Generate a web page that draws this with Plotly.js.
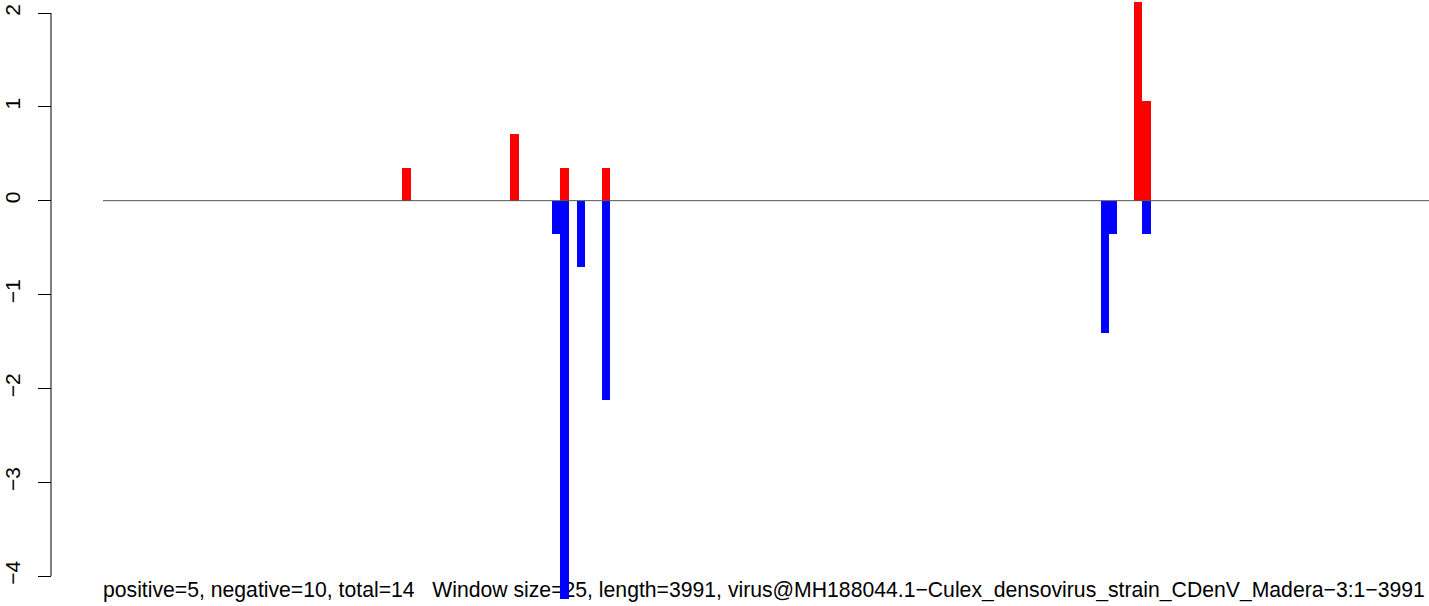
<!DOCTYPE html>
<html>
<head>
<meta charset="utf-8">
<script src="https://cdn.plot.ly/plotly-3.0.1.min.js"></script>
<style>html,body{margin:0;padding:0;background:#fff;}#chart{width:1429px;height:606px;}</style>
</head>
<body>
<div id="chart"></div>
<script>
// Window indices (window size 25) and scores
const posWindows = [36, 49, 55, 60, 124, 125];
const posValues  = [0.35, 0.71, 0.35, 0.35, 2.12, 1.06];
const negWindows = [54, 55, 57, 60, 120, 121, 125];
const negValues  = [-0.35, -4.24, -0.71, -2.12, -1.41, -0.35, -0.35];
const yTicks = [-4, -3, -2, -1, 0, 1, 2];
const caption = "positive=5, negative=10, total=14   Window size=25, length=3991, virus@MH188044.1\u2212Culex_densovirus_strain_CDenV_Madera\u22123:1\u22123991";

const W = 1429, H = 606, L = 51;
const plotW = W - L;
const xDomStart = (103 - L) / plotW;
const xRange = [-0.5, 159.0];
const yRange = [-4.3197, 2.1385];
const font = "Liberation Sans, Arial, Helvetica, sans-serif";

const traces = [
  {
    type: 'scatter', mode: 'text', x: [xRange[0]], y: [-4.17],
    text: [caption], textposition: 'middle right',
    textfont: {family: font, size: 21.2, color: '#000'},
    cliponaxis: false, hoverinfo: 'skip', showlegend: false,
    xaxis: 'x', yaxis: 'y'
  },
  {
    type: 'bar', x: posWindows, y: posValues, width: 1,
    marker: {color: '#ff0000', line: {width: 0}},
    hoverinfo: 'skip', showlegend: false, xaxis: 'x2', yaxis: 'y2'
  },
  {
    type: 'bar', x: negWindows, y: negValues, width: 1,
    marker: {color: '#0000ff', line: {width: 0}},
    hoverinfo: 'skip', showlegend: false, xaxis: 'x2', yaxis: 'y2'
  }
];

const layout = {
  width: W, height: H,
  margin: {l: L, r: 0, t: 0, b: 0, pad: 0},
  paper_bgcolor: '#fff', plot_bgcolor: '#fff',
  barmode: 'overlay', bargap: 0, showlegend: false,
  font: {family: font, size: 21, color: '#000'},
  xaxis: {domain: [xDomStart, 1], range: xRange, visible: false, fixedrange: true},
  yaxis: {
    anchor: 'free', position: 0, range: yRange,
    tickvals: yTicks, ticktext: yTicks.map(v => v < 0 ? '\u2212' + Math.abs(v) : String(v)),
    ticks: 'outside', ticklen: 13, tickwidth: 1, tickcolor: '#000',
    tickangle: -90, tickfont: {family: font, size: 21, color: '#000'},
    ticklabelstandoff: 10,
    showgrid: false, zeroline: false, showline: false, fixedrange: true
  },
  xaxis2: {overlaying: 'x', range: xRange, visible: false, fixedrange: true},
  yaxis2: {overlaying: 'y', range: yRange, visible: false, fixedrange: true},
  shapes: [
    {type: 'line', xref: 'paper', yref: 'y', x0: 0, x1: 0, y0: -4, y1: 2,
     line: {color: '#000', width: 1}, layer: 'above'},
    {type: 'line', xref: 'paper', yref: 'y', x0: xDomStart, x1: 1, y0: 0, y1: 0,
     line: {color: '#555', width: 1}, layer: 'above'}
  ]
};

Plotly.newPlot('chart', traces, layout, {staticPlot: true, displayModeBar: false});
</script>
</body>
</html>
